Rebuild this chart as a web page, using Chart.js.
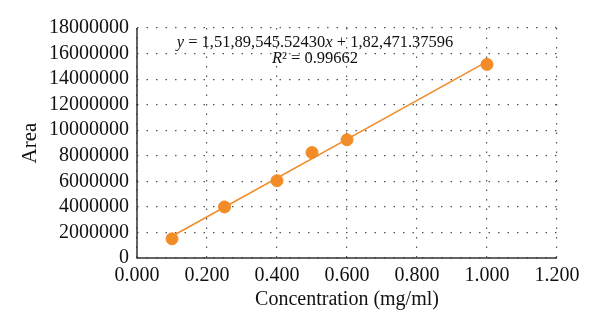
<!DOCTYPE html>
<html>
<head>
<script src="https://cdn.jsdelivr.net/npm/chart.js@4.4.0/dist/chart.umd.min.js"></script>
<style>
  html, body { margin: 0; padding: 0; background: #fff; }
  #wrap { width: 600px; height: 336px; }
</style>
</head>
<body>
<div id="wrap"><canvas id="myChart"></canvas></div>
<script>
// measured points
var conc = [0.1, 0.25, 0.4, 0.5, 0.6, 1.0];
var area = [1500000, 4000000, 6050000, 8250000, 9250000, 15150000];
// trendline ends
var trendX = [0.1, 1.0];
var trendY = [1701426, 15372017];

var orange = "#F28C28";
var serif = "'Liberation Serif', 'DejaVu Serif', serif";

var pts = conc.map(function(c, i){ return {x: c, y: area[i]}; });
var trend = trendX.map(function(c, i){ return {x: c, y: trendY[i]}; });

// draws text pieces (some italic) centred on cx
function drawParts(ctx, parts, cx, y, size){
  var w = 0;
  parts.forEach(function(p){
    ctx.font = (p[1] ? "italic " : "") + size + "px " + serif;
    w += ctx.measureText(p[0]).width;
  });
  var x = cx - w / 2;
  parts.forEach(function(p){
    ctx.font = (p[1] ? "italic " : "") + size + "px " + serif;
    ctx.fillText(p[0], x, y);
    x += ctx.measureText(p[0]).width;
  });
}

var eqPlugin = {
  id: "eq",
  afterDraw: function(chart){
    var ctx = chart.ctx;
    ctx.save();
    ctx.fillStyle = "#111";
    ctx.textBaseline = "middle";
    drawParts(ctx, [["y", true], [" = 1,51,89,545.52430", false], ["x", true], [" + 1,82,471.37596", false]], 315, 43, 16.5);
    drawParts(ctx, [["R", true], ["² = 0.99662", false]], 315, 59, 16.5);
    ctx.restore();
  }
};

// solid axis lines on left and bottom
var axisPlugin = {
  id: "axes",
  afterDatasetsDraw: function(chart){
    var a = chart.chartArea, ctx = chart.ctx;
    ctx.save();
    ctx.strokeStyle = "#333";
    ctx.lineWidth = 1.5;
    ctx.setLineDash([]);
    ctx.beginPath();
    ctx.moveTo(a.left, a.top);
    ctx.lineTo(a.left, a.bottom);
    ctx.lineTo(a.right, a.bottom);
    ctx.stroke();
    ctx.restore();
  }
};

new Chart("myChart", {
  type: "scatter",
  data: {
    datasets: [{
      data: trend,
      showLine: true,
      borderColor: orange,
      borderWidth: 1.5,
      pointRadius: 0,
      order: 2
    }, {
      data: pts,
      backgroundColor: orange,
      borderColor: orange,
      pointRadius: 6,
      order: 1
    }]
  },
  options: {
    responsive: true,
    maintainAspectRatio: false,
    animation: false,
    layout: { padding: { top: 28, right: 43, left: 0, bottom: 0 } },
    plugins: { legend: { display: false }, tooltip: { enabled: false } },
    scales: {
      x: {
        type: "linear",
        min: 0, max: 1.2,
        ticks: {
          stepSize: 0.2,
          autoSkip: false,
          color: "#111",
          font: { family: serif, size: 20 },
          padding: 6,
          maxRotation: 0,
          callback: function(v){ return v.toFixed(3); }
        },
        grid: { color: "#555", lineWidth: 1.2, drawTicks: false },
        border: { display: false, dash: [1.5, 8] },
        title: {
          display: true,
          text: "Concentration (mg/ml)",
          color: "#111",
          font: { family: serif, size: 20 },
          padding: { top: 4, bottom: 24 }
        },
        afterFit: function(s){ s.height = 78; }
      },
      y: {
        min: 0, max: 18000000,
        ticks: {
          stepSize: 2000000,
          autoSkip: false,
          color: "#111",
          font: { family: serif, size: 20 },
          padding: 8,
          callback: function(v){ return String(v); }
        },
        grid: { color: "#555", lineWidth: 1.2, drawTicks: false },
        border: { display: false, dash: [1.5, 8] },
        title: {
          display: true,
          text: "Area",
          color: "#111",
          font: { family: serif, size: 21 },
          padding: { top: 18, bottom: 4 }
        },
        afterFit: function(s){ s.width = 137; }
      }
    }
  },
  plugins: [eqPlugin, axisPlugin]
});
</script>
</body>
</html>
